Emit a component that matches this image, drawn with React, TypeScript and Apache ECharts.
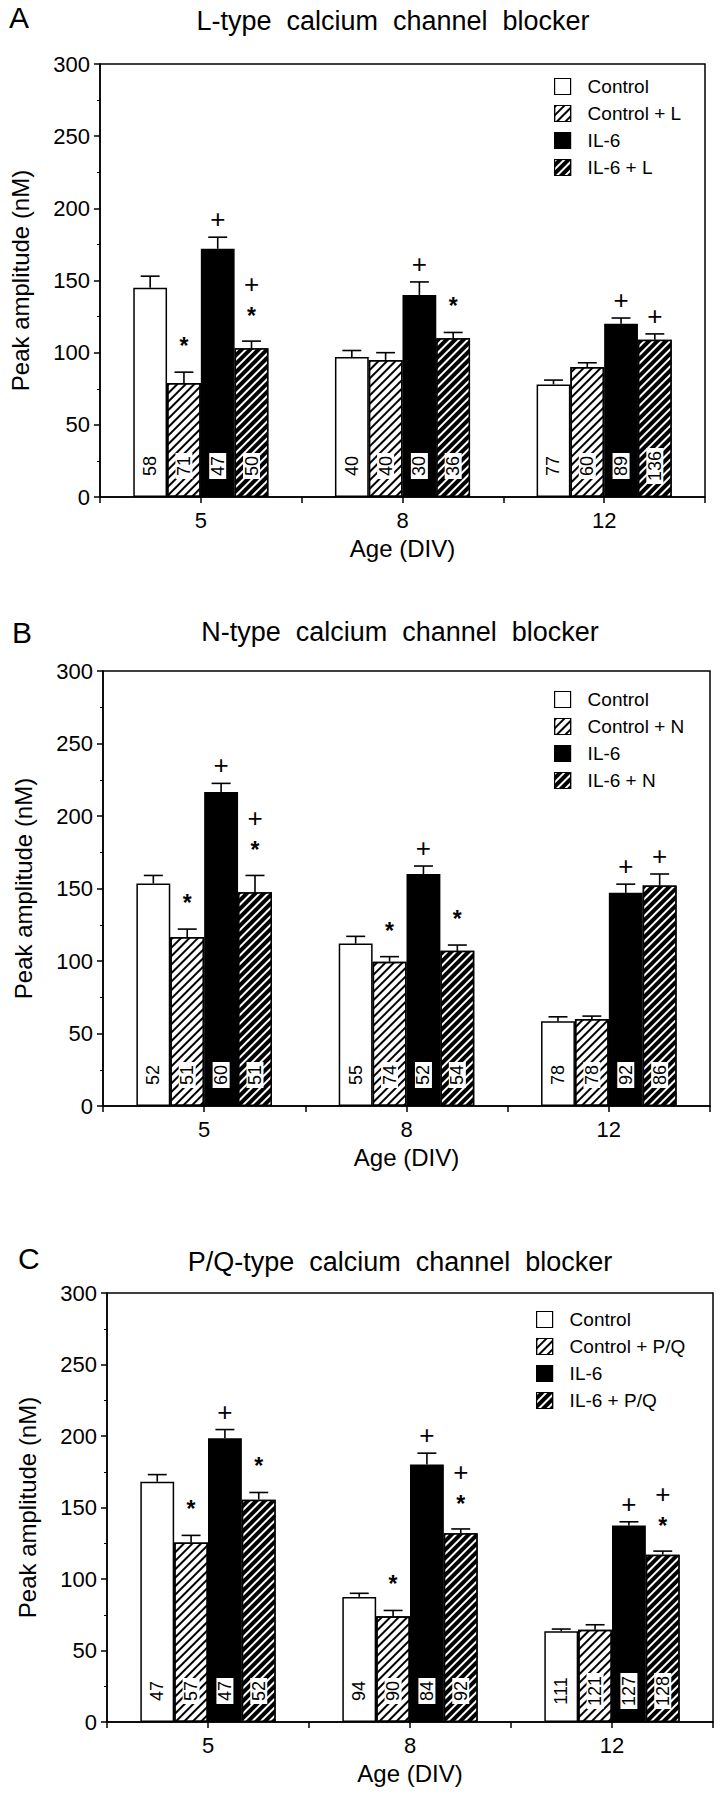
import React, { useEffect, useRef } from "react";
import * as echarts from "echarts";

const AGES = ["5", "8", "12"];

const L_NAMES = ["Control", "Control + L", "IL-6", "IL-6 + L"];
const L_MEANS = [[145, 97, 78], [79, 95, 90], [172, 140, 120], [103, 110, 109]];
const L_SEM = [[8, 4.5, 3], [7.5, 5, 3], [8, 9, 4], [5, 4, 4]];
const L_N = [[58, 40, 77], [71, 40, 60], [47, 30, 89], [50, 36, 136]];
const L_MARKS = [["", "", ""], ["*", "", ""], ["+", "+", "+"], ["+*", "*", "+"]];

const N_NAMES = ["Control", "Control + N", "IL-6", "IL-6 + N"];
const N_MEANS = [[153.5, 112, 58.5], [116.5, 99.5, 60], [216.5, 160, 147], [147.5, 107, 152]];
const N_SEM = [[5.5, 5, 3], [5.5, 3.5, 2], [6, 5.5, 6], [11.5, 4, 8]];
const N_N = [[52, 55, 78], [51, 74, 78], [60, 52, 92], [51, 54, 86]];
const N_MARKS = [["", "", ""], ["*", "*", ""], ["+", "+", "+"], ["+*", "*", "+"]];

const PQ_NAMES = ["Control", "Control + P/Q", "IL-6", "IL-6 + P/Q"];
const PQ_MEANS = [[168, 87.5, 63.5], [125.5, 74, 64.5], [198.5, 180, 137.5], [155.5, 132, 117]];
const PQ_SEM = [[5, 2.5, 1.5], [5, 4, 3.5], [6, 8, 2.5], [5, 3, 2.5]];
const PQ_N = [[47, 94, 111], [57, 90, 121], [47, 84, 127], [52, 92, 128]];
const PQ_MARKS = [["", "", ""], ["*", "*", ""], ["+", "+", "+"], ["*", "+*", "+*"]];

const Y_MIN = 0;
const Y_MAX = 300;
const Y_STEP = 50;

const FONT = '"Liberation Sans", Arial, sans-serif';
const BAR_FRAC = 0.67;

const FILLS = ["#ffffff", "#ffffff", "#000000", "#000000"];
const DECALS: any[] = [
  undefined,
  { symbol: "rect", symbolSize: 1, color: "#000", dashArrayX: [1, 0], dashArrayY: [1.6, 3.4], rotation: -Math.PI / 4 },
  undefined,
  { symbol: "rect", symbolSize: 1, color: "#fff", dashArrayX: [1, 0], dashArrayY: [1.2, 3.8], rotation: -Math.PI / 4 },
];

const PANELS = [
  {
    letter: "A", title: "L-type  calcium  channel  blocker",
    names: L_NAMES, means: L_MEANS, sem: L_SEM, counts: L_N, marks: L_MARKS,
    letterPos: [9, 17], titlePos: [393, 21],
    grid: { left: 100, top: 64, width: 605, height: 433 }, legendPos: [549, 72],
  },
  {
    letter: "B", title: "N-type  calcium  channel  blocker",
    names: N_NAMES, means: N_MEANS, sem: N_SEM, counts: N_N, marks: N_MARKS,
    letterPos: [12, 32], titlePos: [400, 32],
    grid: { left: 103, top: 71, width: 607, height: 435 }, legendPos: [549, 85],
  },
  {
    letter: "C", title: "P/Q-type  calcium  channel  blocker",
    names: PQ_NAMES, means: PQ_MEANS, sem: PQ_SEM, counts: PQ_N, marks: PQ_MARKS,
    letterPos: [18, 58], titlePos: [400, 62],
    grid: { left: 107, top: 93, width: 606, height: 429 }, legendPos: [531, 105],
  },
];

function buildOption(cfg: any) {
  const series: any[] = [];
  for (let k = 0; k < 4; k++) {
    series.push({
      type: "bar",
      name: cfg.names[k],
      xAxisIndex: 0,
      yAxisIndex: 0,
      data: cfg.means[k],
      barGap: "0%",
      barCategoryGap: "33%",
      silent: true,
      itemStyle: {
        color: FILLS[k],
        borderColor: "#000",
        borderWidth: 1.5,
        ...(DECALS[k] ? { decal: DECALS[k] } : {}),
      },
      label: {
        show: true,
        position: "insideBottom",
        distance: 31,
        rotate: 90,
        align: "center",
        verticalAlign: "middle",
        formatter: (p: any) => String(cfg.counts[k][p.dataIndex]),
        fontSize: 18,
        lineHeight: 15,
        fontFamily: FONT,
        color: "#000",
        backgroundColor: k === 0 ? "transparent" : "#fff",
        padding: [1, 3],
      },
    });
  }
  for (let k = 0; k < 4; k++) {
    const marks = cfg.marks[k];
    series.push({
      type: "custom",
      name: cfg.names[k] + " SEM",
      xAxisIndex: 0,
      yAxisIndex: 0,
      silent: true,
      z: 5,
      encode: { x: 0, y: 1 },
      data: AGES.map((_, i) => [i, cfg.means[k][i], cfg.sem[k][i]]),
      renderItem: (params: any, api: any) => {
        const ci = api.value(0);
        const mean = api.value(1);
        const err = api.value(2);
        const catW = api.size([1, 0])[0];
        const barW = (catW * BAR_FRAC) / 4;
        const p0 = api.coord([ci, mean]);
        const p1 = api.coord([ci, mean + err]);
        const cx = p0[0] + (k - 1.5) * barW;
        const capHalf = barW * 0.28;
        const ls = { stroke: "#000", lineWidth: 1.6 };
        const children: any[] = [
          { type: "line", shape: { x1: cx, y1: p0[1], x2: cx, y2: p1[1] }, style: ls },
          { type: "line", shape: { x1: cx - capHalf, y1: p1[1], x2: cx + capHalf, y2: p1[1] }, style: ls },
        ];
        const m = marks[params.dataIndex];
        const txt = (t: string, y: number, bold: boolean, size: number) => ({
          type: "text",
          style: {
            text: t, x: cx, y, align: "center", verticalAlign: "middle",
            fontSize: size, fontWeight: bold ? "bold" : "normal", fontFamily: FONT, fill: "#000",
          },
        });
        if (m === "+") children.push(txt("+", p1[1] - 18, false, 26));
        if (m === "*") children.push(txt("*", p1[1] - 26, true, 23));
        if (m === "+*") {
          children.push(txt("*", p1[1] - 25, true, 23));
          children.push(txt("+", p1[1] - 57, false, 26));
        }
        return { type: "group", children };
      },
    });
  }

  return {
    animation: false,
    backgroundColor: "#fff",
    textStyle: { fontFamily: FONT },
    graphic: [
      {
        type: "text", x: cfg.letterPos[0], y: cfg.letterPos[1],
        style: { text: cfg.letter, fontSize: 30, fontFamily: FONT, fill: "#000", align: "left", verticalAlign: "middle" },
      },
      {
        type: "text", x: cfg.titlePos[0], y: cfg.titlePos[1],
        style: { text: cfg.title, fontSize: 27, fontFamily: FONT, fill: "#000", align: "center", verticalAlign: "middle" },
      },
    ],
    grid: {
      ...cfg.grid,
      show: true,
      borderColor: "#000",
      borderWidth: 1.5,
      backgroundColor: "transparent",
      containLabel: false,
      outerBoundsMode: "none",
    },
    legend: {
      show: true,
      orient: "vertical",
      left: cfg.legendPos[0],
      top: cfg.legendPos[1],
      icon: "rect",
      itemWidth: 16,
      itemHeight: 16,
      itemGap: 8,
      selectedMode: false,
      data: cfg.names,
      itemStyle: { borderColor: "#000", borderWidth: 1.2 },
      textStyle: { fontSize: 19, fontFamily: FONT, color: "#000", padding: [0, 0, 0, 12] },
    },
    tooltip: { show: false },
    xAxis: [
      {
        type: "category",
        gridIndex: 0,
        data: AGES,
        position: "bottom",
        axisLine: { show: true, lineStyle: { color: "#000", width: 1.5 } },
        axisTick: { show: false },
        axisLabel: { fontSize: 22, color: "#000", fontFamily: FONT, margin: 12 },
        splitLine: { show: false },
        name: "Age (DIV)",
        nameLocation: "middle",
        nameGap: 39,
        nameTextStyle: { fontSize: 24, color: "#000", fontFamily: FONT },
      },
      {
        type: "category",
        gridIndex: 0,
        data: ["a", "b", "c", "d", "e", "f"],
        position: "bottom",
        axisLine: { show: false },
        axisTick: { show: true, interval: 0, length: 6, lineStyle: { color: "#000", width: 1.5 } },
        axisLabel: { show: false },
        splitLine: { show: false },
      },
    ],
    yAxis: {
      type: "value",
      gridIndex: 0,
      min: Y_MIN,
      max: Y_MAX,
      interval: Y_STEP,
      axisLine: { show: true, lineStyle: { color: "#000", width: 1.5 } },
      axisTick: { show: true, length: 6, lineStyle: { color: "#000", width: 1.5 } },
      minorTick: { show: true, splitNumber: 2, length: 3, lineStyle: { color: "#000", width: 1 } },
      splitLine: { show: false },
      minorSplitLine: { show: false },
      axisLabel: { fontSize: 22, color: "#000", fontFamily: FONT, margin: 10 },
      name: "Peak amplitude (nM)",
      nameLocation: "middle",
      nameGap: 68,
      nameTextStyle: { fontSize: 24, color: "#000", fontFamily: FONT },
    },
    series,
  };
}

function Panel({ cfg }: { cfg: any }) {
  const ref = useRef<HTMLDivElement | null>(null);
  useEffect(() => {
    if (!ref.current) return;
    const chart = echarts.init(ref.current, null, { renderer: "svg" });
    chart.setOption(buildOption(cfg));
    return () => chart.dispose();
  }, [cfg]);
  return <div ref={ref} style={{ width: 720, height: 600 }} />;
}

export default function App() {
  return (
    <div style={{ position: "absolute", left: 0, top: 0, width: 720, height: 1800, background: "#fff" }}>
      {PANELS.map((p) => (
        <Panel key={p.letter} cfg={p} />
      ))}
    </div>
  );
}
